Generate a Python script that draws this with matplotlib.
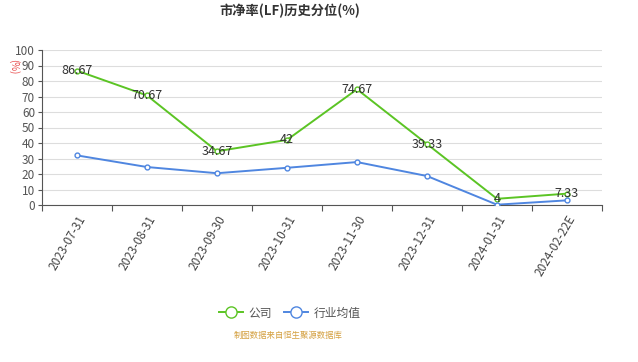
import matplotlib
matplotlib.use("Agg")
import matplotlib.pyplot as plt
import numpy as np

plt.rcParams['font.family'] = ['Noto Sans CJK SC', 'DejaVu Sans']

dates = ["2023-07-31", "2023-08-31", "2023-09-30", "2023-10-31",
         "2023-11-30", "2023-12-31", "2024-01-31", "2024-02-22E"]
company = [86.67, 70.67, 34.67, 42, 74.67, 39.33, 4, 7.33]
company_labels = ["86.67", "70.67", "34.67", "42", "74.67", "39.33", "4", "7.33"]
industry = [32, 24.5, 20.5, 24, 27.7, 18.7, 0.2, 3]

green = "#5bc424"
blue = "#4f86e0"

fig = plt.figure(figsize=(6.38, 3.62), dpi=100)
ax = fig.add_axes([42 / 638, 1 - 205 / 362, 560 / 638, 155 / 362])

x = np.arange(len(dates))
ax.plot(x, company, color=green, lw=1.4, marker="o", ms=3.5,
        mfc="white", mec=green, mew=1, label="公司", zorder=3)
ax.plot(x, industry, color=blue, lw=1.4, marker="o", ms=3.5,
        mfc="white", mec=blue, mew=1, label="行业均值", zorder=3)
for xi, yi, t in zip(x, company, company_labels):
    ax.text(xi, yi, t, ha="center", va="center", fontsize=9,
            color="#333333", zorder=4)

ax.set_xlim(-0.5, len(dates) - 0.5)
ax.set_ylim(0, 100)
ax.set_yticks(np.arange(0, 101, 10))
ax.set_xticks(np.arange(-0.5, len(dates), 1), minor=False)
ax.set_xticklabels([])
ax.set_xticks(x, minor=True)
ax.set_xticklabels(dates, minor=True, rotation=60, ha="right",
                   rotation_mode="anchor", fontsize=8.5, color="#444444")
ax.tick_params(axis="x", which="minor", length=0, pad=6)
ax.tick_params(axis="x", which="major", length=4, color="#555555")
ax.tick_params(axis="y", labelsize=8.5, labelcolor="#555555", length=3,
               color="#555555", pad=2)
ax.grid(axis="y", color="#dddddd", lw=0.8)
ax.set_axisbelow(True)
for s in ["top", "right"]:
    ax.spines[s].set_visible(False)
ax.spines["left"].set_color("#555555")
ax.spines["bottom"].set_color("#555555")

fig.text(14 / 638, 1 - 67 / 362, "(%)", color="#e84c4c", fontsize=7,
         rotation=-90, ha="center", va="center")
fig.text(290 / 638, 1 - 11 / 362, "市净率(LF)历史分位(%)", ha="center", va="center",
         fontsize=9.5, fontweight="bold", color="#333333")

fig.legend(loc="center", bbox_to_anchor=(290 / 638, 1 - 313 / 362), ncol=2,
           frameon=False, fontsize=8.5, handlelength=2.0, columnspacing=1.0,
           handletextpad=0.5, markerscale=2.3, labelcolor="#555555")
fig.text(288 / 638, 1 - 335 / 362, "制图数据来自恒生聚源数据库", ha="center",
         va="center", fontsize=6, color="#d4a040")

fig.savefig("out.png", dpi=100)
